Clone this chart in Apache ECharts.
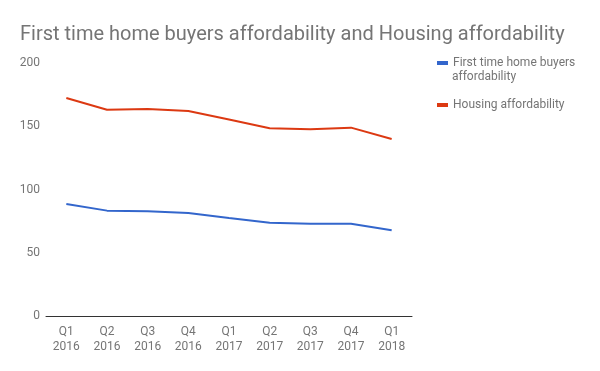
<!DOCTYPE html>
<html><head><meta charset="utf-8">
<script src="https://cdn.jsdelivr.net/npm/echarts@6/dist/echarts.min.js"></script>
<style>html,body{margin:0;padding:0;background:#fff}#c{width:600px;height:371px}</style>
</head><body><div id="c"></div>
<script>
const categories = ['Q1\n2016','Q2\n2016','Q3\n2016','Q4\n2016','Q1\n2017','Q2\n2017','Q3\n2017','Q4\n2017','Q1\n2018'];
const firstTimeBuyers = [88.5, 83.3, 82.8, 81.4, 77.5, 73.8, 73.0, 73.0, 67.7];
const housing = [172.3, 163.1, 163.6, 162.0, 155.3, 148.4, 147.6, 148.9, 139.9];
const yTicks = [0, 50, 100, 150, 200];
const chart = echarts.init(document.getElementById('c'));
chart.setOption({
  animation: false,
  title: {
    text: 'First time home buyers affordability and Housing affordability',
    left: 15, top: 20,
    textStyle: {fontFamily: 'Roboto', fontSize: 20, fontWeight: 'normal', color: '#757575'}
  },
  legend: {
    orient: 'vertical', left: 432, top: 52, itemGap: 30,
    icon: 'rect', itemWidth: 11, itemHeight: 4,
    textStyle: {fontFamily: 'Roboto', fontSize: 12, color: '#757575'},
    formatter: function(n){ return n === 'First time home buyers affordability' ? 'First time home buyers' : n; },
    data: ['First time home buyers affordability', 'Housing affordability']
  },
  graphic: [{type: 'text', left: 452, top: 71, style: {text: 'affordability', fontFamily: 'Roboto', fontSize: 12, fill: '#757575'}}],
  grid: {left: 46, right: 188, top: 63, bottom: 55},
  xAxis: {
    type: 'category', data: categories, boundaryGap: true,
    axisLine: {lineStyle: {color: '#333', width: 1}},
    axisTick: {show: false},
    axisLabel: {fontFamily: 'Roboto', fontSize: 12, color: '#757575', lineHeight: 15, margin: 8}
  },
  yAxis: {
    type: 'value', min: 0, max: 200, interval: 50,
    axisLine: {show: false}, axisTick: {show: false},
    splitLine: {show: false},
    axisLabel: {fontFamily: 'Roboto', fontSize: 12, color: '#757575', margin: 6,
      formatter: function(v){ return yTicks.indexOf(v) >= 0 ? String(v) : ''; }}
  },
  series: [
    {name: 'First time home buyers affordability', type: 'line', data: firstTimeBuyers,
     showSymbol: false, lineStyle: {color: '#3366cc', width: 2}, itemStyle: {color: '#3366cc'}},
    {name: 'Housing affordability', type: 'line', data: housing,
     showSymbol: false, lineStyle: {color: '#dc3912', width: 2}, itemStyle: {color: '#dc3912'}}
  ]
});
</script></body></html>
